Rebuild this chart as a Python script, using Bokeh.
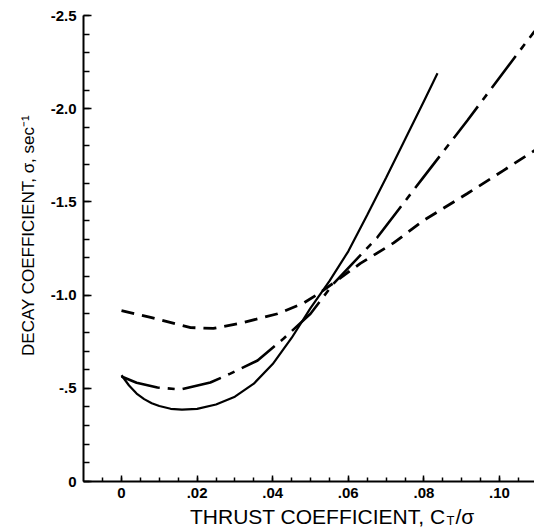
import math
from bokeh.plotting import figure
from bokeh.models import Range1d, FixedTicker, Label, CustomJSTickFormatter
from bokeh.embed import file_html
from bokeh.resources import INLINE

# ---- data ----
solid_x = [0, 0.002, 0.004, 0.006, 0.008, 0.010, 0.013, 0.016, 0.02, 0.025, 0.03, 0.035,
           0.04, 0.045, 0.05, 0.055, 0.06, 0.065, 0.07, 0.075, 0.08, 0.0836]
solid_y = [-0.57, -0.515, -0.472, -0.442, -0.42, -0.405, -0.39, -0.386, -0.39, -0.413,
           -0.455, -0.525, -0.63, -0.77, -0.93, -1.075, -1.235, -1.43, -1.63, -1.835,
           -2.04, -2.19]

dashdot_x = [0, 0.004, 0.0095, 0.0156, 0.0235, 0.0288, 0.036, 0.0429, 0.05, 0.0561,
             0.0677, 0.0796, 0.0915, 0.1048, 0.1093]
dashdot_y = [-0.563, -0.53, -0.504, -0.494, -0.531, -0.579, -0.649, -0.767, -0.90,
             -1.062, -1.31, -1.625, -1.937, -2.296, -2.416]

dash_x = [0, 0.0077, 0.0183, 0.0243, 0.0323, 0.0413, 0.048, 0.0526, 0.0632, 0.072,
          0.0799, 0.0915, 0.101, 0.1093]
dash_y = [-0.917, -0.88, -0.826, -0.821, -0.853, -0.90, -0.955, -1.014, -1.17, -1.28,
          -1.40, -1.545, -1.668, -1.776]

x_ticks = [0, 0.02, 0.04, 0.06, 0.08, 0.10]
x_minor = [round(-0.005 + 0.005 * i, 3) for i in range(23)]
y_ticks = [0, -0.5, -1.0, -1.5, -2.0, -2.5]
y_minor = [round(-0.1 * i, 1) for i in range(26)]

X_AXIS_START, X_AXIS_END = -0.01005, 0.10926
Y_AXIS_START, Y_AXIS_END = 0.0, -2.5

FONT = "Liberation Sans"

# pixel helpers: the frame spans the whole 534x529 canvas
def px2x(px):
    return (px - 121) / 3780.0

def py2y(py):
    return (py - 481) / 186.4

p = figure(width=534, height=529, output_backend="svg", toolbar_location=None,
           x_range=Range1d(px2x(0), px2x(534)), y_range=Range1d(py2y(529), py2y(0)),
           min_border_left=0, min_border_right=0, min_border_top=0,
           min_border_bottom=0)
p.outline_line_color = None
p.grid.visible = False
p.background_fill_color = "white"
p.border_fill_color = "white"

for ax in (p.xaxis[0], p.yaxis[0]):
    ax.axis_line_width = 2
    ax.axis_line_color = "black"
    ax.major_tick_line_width = 1.5
    ax.minor_tick_line_width = 1.5
    ax.major_tick_out = 0
    ax.minor_tick_out = 0
    ax.major_label_text_font = FONT
    ax.major_label_text_font_size = "15px"
    ax.major_label_text_font_style = "bold"
    ax.major_label_text_color = "black"

p.xaxis.fixed_location = Y_AXIS_START
p.xaxis.bounds = (X_AXIS_START, X_AXIS_END)
p.xaxis.ticker = FixedTicker(ticks=x_ticks, minor_ticks=x_minor)
p.xaxis.major_tick_in = 6
p.xaxis.minor_tick_in = 4
p.xaxis.major_label_standoff = 6
p.xaxis.formatter = CustomJSTickFormatter(code="""
    if (Math.abs(tick) < 1e-9) return "0";
    return tick.toFixed(2).replace("0.", ".");
""")

p.yaxis.fixed_location = X_AXIS_START
p.yaxis.bounds = (Y_AXIS_END, Y_AXIS_START)
p.yaxis.ticker = FixedTicker(ticks=y_ticks, minor_ticks=y_minor)
p.yaxis.major_tick_in = 8
p.yaxis.minor_tick_in = 6
p.yaxis.major_label_standoff = 7
p.yaxis.formatter = CustomJSTickFormatter(code="""
    if (Math.abs(tick) < 1e-9) return "0";
    if (Math.abs(tick) < 1) return "-" + Math.abs(tick).toFixed(1).replace("0.", ".");
    return tick.toFixed(1);
""")

p.line(dash_x, dash_y, line_color="black", line_width=2.8, line_dash="13 8")
p.line(dashdot_x, dashdot_y, line_color="black", line_width=2.6, line_dash="40 8 7 8")
p.line(solid_x, solid_y, line_color="black", line_width=2.2)

p.add_layout(Label(x=px2x(445), y=py2y(516), text="THRUST COEFFICIENT, C",
                   text_align="right", text_baseline="middle", text_font=FONT,
                   text_font_size="21px", text_color="black"))
p.add_layout(Label(x=px2x(446), y=py2y(520), text="T",
                   text_align="left", text_baseline="middle", text_font=FONT,
                   text_font_size="13px", text_color="black"))
p.add_layout(Label(x=px2x(455), y=py2y(516), text="/σ",
                   text_align="left", text_baseline="middle", text_font=FONT,
                   text_font_size="21px", text_color="black"))
p.add_layout(Label(x=px2x(28), y=py2y(235), text="DECAY COEFFICIENT, σ, sec⁻¹",
                   angle=math.pi / 2, text_align="center", text_baseline="middle",
                   text_font=FONT, text_font_size="17px", text_color="black"))

open("out.html", "w").write(file_html(p, INLINE))
